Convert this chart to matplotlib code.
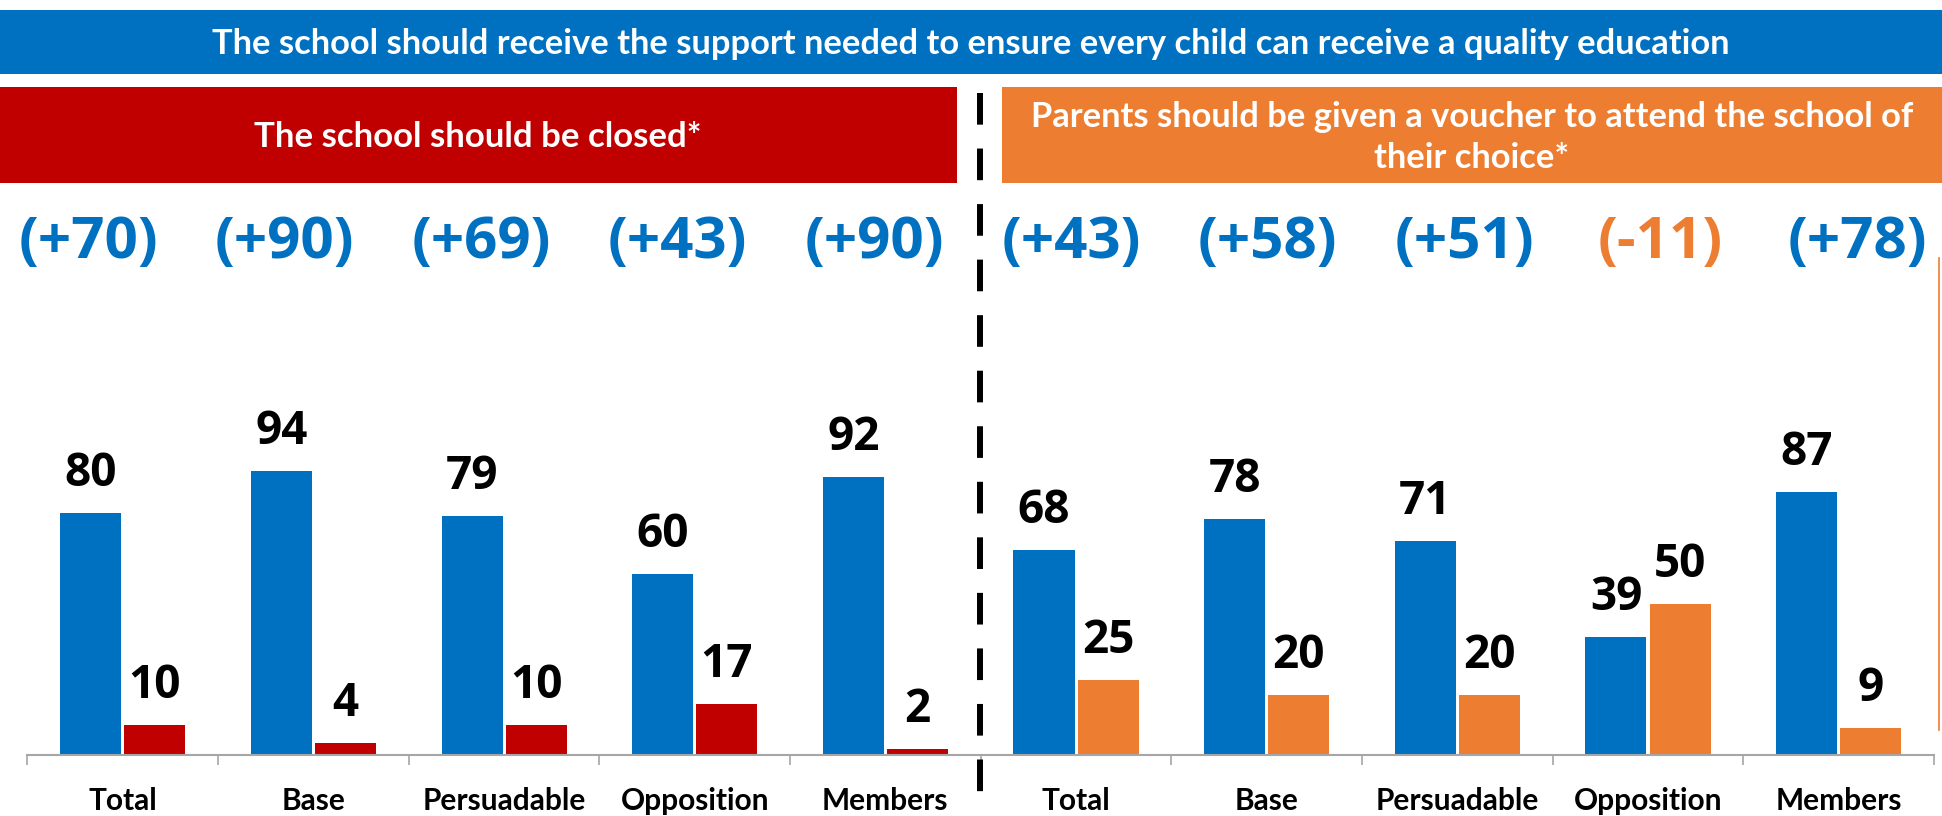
import matplotlib
matplotlib.use('Agg')
import matplotlib.pyplot as plt
from matplotlib.patches import Rectangle
from matplotlib.lines import Line2D
import matplotlib.transforms as mtransforms

# ---------------- data ----------------
categories = ['Total', 'Base', 'Persuadable', 'Opposition', 'Members']
closed_support = [80, 94, 79, 60, 92]     # blue bars, left panel
closed_values = [10, 4, 10, 17, 2]        # red bars, left panel
voucher_support = [68, 78, 71, 39, 87]    # blue bars, right panel
voucher_values = [25, 20, 20, 50, 9]      # orange bars, right panel
closed_spread = [70, 90, 69, 43, 90]
voucher_spread = [43, 58, 51, -11, 78]

title_top = 'The school should receive the support needed to ensure every child can receive a quality education'
title_left = 'The school should be closed*'
title_right = ['Parents should be given a voucher to attend the school of', 'their choice*']

# ---------------- style ----------------
BLUE = '#0070C0'
RED = '#C00000'
ORANGE = '#ED7D31'
GREY = '#A6A6A6'
TXT = ['Lato', 'DejaVu Sans']
NUM = ['Open Sans', 'DejaVu Sans']

W, H = 1942, 816
fig = plt.figure(figsize=(W / 100, H / 100), dpi=100)
fig.patch.set_facecolor('white')


def fx(x):
    return x / W


def fy(y):
    return 1 - y / H


# banners
fig.patches.append(Rectangle((0, fy(74)), 1, (74 - 10) / H, transform=fig.transFigure,
                             facecolor=BLUE, edgecolor='none', zorder=0))
fig.patches.append(Rectangle((0, fy(183)), fx(957), (183 - 87) / H, transform=fig.transFigure,
                             facecolor=RED, edgecolor='none', zorder=0))
fig.patches.append(Rectangle((fx(1002), fy(183)), fx(W - 1002), (183 - 87) / H,
                             transform=fig.transFigure, facecolor=ORANGE, edgecolor='none', zorder=0))

fig.text(0.5, fy(54), title_top, ha='center', va='baseline', color='white',
         fontsize=24.8, fontweight='bold', family=TXT)
fig.text(fx(478), fy(147), title_left, ha='center', va='baseline', color='white',
         fontsize=25, fontweight='bold', family=TXT)
for line, base in zip(title_right, [127, 168]):
    fig.text(fx(1472), fy(base), line, ha='center', va='baseline', color='white',
             fontsize=24.8, fontweight='bold', family=TXT)

# main axes: one continuous category axis with 10 groups
x0, x1 = 27.4, 1934
base_y = 755
px_per_unit = 3.02
ax = fig.add_axes([fx(x0), fy(base_y), fx(x1 - x0), 100 * px_per_unit / H])
ax.set_xlim(0, 10)
ax.set_ylim(0, 100)
for s in ['top', 'left', 'right']:
    ax.spines[s].set_visible(False)
ax.spines['bottom'].set_color(GREY)
ax.spines['bottom'].set_linewidth(1.5)
ax.set_yticks([])
ax.set_xticks(range(0, 11))
ax.set_xticklabels([])
ax.tick_params(axis='x', length=7.5, width=1.2, color=GREY, direction='out')
ax.patch.set_alpha(0)

bw = 0.32
off = 0.168
groups = [(closed_support, closed_values, RED), (voucher_support, voucher_values, ORANGE)]
for g, (sup, oth, col) in enumerate(groups):
    for i in range(len(categories)):
        c = g * 5 + i + 0.5
        for xv, v, colr in [(c - off, sup[i], BLUE), (c + off, oth[i], col)]:
            ax.bar(xv, v, width=bw, color=colr, edgecolor='none', zorder=2)
            ax.annotate(str(v), (xv, v), xytext=(0, 19.4), textcoords='offset points',
                        ha='center', va='baseline', fontsize=33, fontweight='bold',
                        family=NUM, color='black', annotation_clip=False)

# category labels
blend = mtransforms.blended_transform_factory(ax.transData, fig.transFigure)
for g in range(2):
    for i, cat in enumerate(categories):
        ax.text(g * 5 + i + 0.5, fy(810), cat, transform=blend, ha='center', va='baseline',
                fontsize=21.5, fontweight='bold', family=TXT, color='black', clip_on=False)

# spread labels
spreads = closed_spread + voucher_spread
for k, s in enumerate(spreads):
    label = '(+%d)' % s if s > 0 else '(%d)' % s
    colr = BLUE if s > 0 else ORANGE
    ax.text(0.318 + 1.031 * k, fy(258), label, transform=blend, ha='center', va='baseline',
            fontsize=42, fontweight='bold', family=NUM, color=colr, clip_on=False)

# dashed divider
fig.lines.append(Line2D([fx(980), fx(980)], [fy(93), fy(805)], transform=fig.transFigure,
                        color='black', linewidth=4.3, linestyle=(0, (5.3, 4.0)), zorder=5))
# thin orange line at the right edge
fig.lines.append(Line2D([fx(1939), fx(1939)], [fy(258), fy(730)], transform=fig.transFigure,
                        color=ORANGE, linewidth=1.2, zorder=5))

fig.savefig('out.png', dpi=100)
